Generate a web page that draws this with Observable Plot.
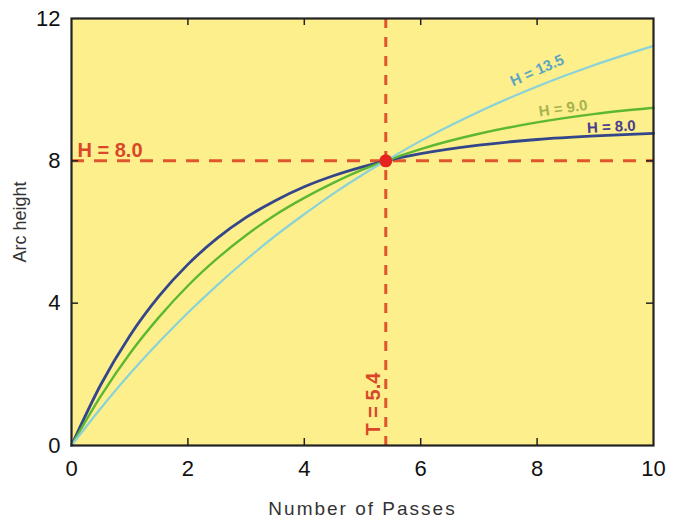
<!DOCTYPE html>
<html>
<head>
<meta charset="utf-8">
<script src="https://cdn.jsdelivr.net/npm/d3@7"></script>
<script src="https://cdn.jsdelivr.net/npm/@observablehq/plot@0.6"></script>
<style>
  html, body { margin: 0; padding: 0; background: #fff; }
  #chart { width: 678px; height: 525px; }
</style>
</head>
<body>
<div id="chart"></div>
<script>
// Number of passes (x)
const passes = [0, 0.5, 1, 1.5, 2, 2.5, 3, 3.5, 4, 4.5, 5, 5.4, 6, 7, 8, 9, 10];
// Arc height
const arcH80  = [0, 1.70, 3.08, 4.19, 5.09, 5.82, 6.41, 6.88, 7.27, 7.58, 7.83, 8.0, 8.20, 8.44, 8.60, 8.70, 8.77];
const arcH90  = [0, 1.38, 2.58, 3.60, 4.49, 5.25, 5.91, 6.48, 6.96, 7.38, 7.75, 8.0, 8.33, 8.76, 9.08, 9.32, 9.49];
const arcH135 = [0, 1.04, 2.01, 2.90, 3.73, 4.50, 5.22, 5.89, 6.50, 7.08, 7.61, 8.0, 8.56, 9.38, 10.09, 10.70, 11.23];
const seriesNames = ["H = 8.0", "H = 9.0", "H = 13.5"];
// saturation point
const refT = [5.4];
const refH = [8.0];
const refHLabel = ["H = 8.0"];
const refTLabel = ["T = 5.4"];
// ticks
const xTicks = [0, 2, 4, 6, 8, 10];
const yTicks = [0, 4, 8, 12];
const xTitle = "Number of Passes";
const yTitle = "Arc height";

const seriesValues = [arcH80, arcH90, arcH135];
const lineColors = ["#34468a", "#5db733", "#8ad2d8"];
const lineWidths = [2.8, 2.4, 2.2];
const labelColors = ["#4a3e8c", "#a6b34c", "#5ea6bf"];
const labelAnchorIdx = [15, 14, 14];   // index in passes where each label sits
const labelRotate = [-3, -8, -24];
const labelDx = [16, 26, 0];
const labelDy = [-9, -14, -16];

const font = "'Liberation Sans', Arial, Helvetica, sans-serif";
const W = 678, H = 525;
const mL = 71, mR = 25, mT = 18, mB = 80;
const innerW = W - mL - mR, innerH = H - mT - mB;

const rows = seriesNames.map((name, s) => passes.map((t, i) => ({series: name, t, v: seriesValues[s][i]})));
const labels = seriesNames.map((name, s) => ({
  series: name, t: passes[labelAnchorIdx[s]], v: seriesValues[s][labelAnchorIdx[s]]
}));

const marks = [
  Plot.frame({fill: "#fcef8c", stroke: null}),
  Plot.ruleY(refH, {stroke: "#e0552b", strokeWidth: 3, strokeDasharray: "13,10"}),
  Plot.ruleX(refT, {stroke: "#e0552b", strokeWidth: 3, strokeDasharray: "10,9"}),
];
rows.forEach((data, s) => {
  marks.push(Plot.line(data, {x: "t", y: "v", stroke: lineColors[s], strokeWidth: lineWidths[s], curve: "monotone-x"}));
});
labels.forEach((d, s) => {
  marks.push(Plot.text([d], {x: "t", y: "v", text: "series", fill: labelColors[s], fontWeight: "bold",
    fontSize: 15, rotate: labelRotate[s], dx: labelDx[s], dy: labelDy[s], fontFamily: font}));
});
marks.push(
  Plot.dot(refT.map((t, i) => ({t, v: refH[i]})), {x: "t", y: "v", r: 6.5, fill: "#e52421", stroke: null}),
  Plot.text(refHLabel, {x: xTicks[0], y: refH[0], text: d => d, textAnchor: "start", dx: 6, dy: -10,
    fill: "#d9472b", fontWeight: "bold", fontSize: 20, fontFamily: font}),
  Plot.text(refTLabel, {x: refT[0], y: yTicks[0], text: d => d, textAnchor: "start", rotate: -90, dx: -12, dy: -10,
    fill: "#d9472b", fontWeight: "bold", fontSize: 20, fontFamily: font}),
  // inward ticks
  Plot.tickX(xTicks.slice(1, -1), {x: d => d, stroke: "#222", strokeWidth: 1.5, insetTop: innerH - 7}),
  Plot.tickX(xTicks.slice(1, -1), {x: d => d, stroke: "#222", strokeWidth: 1.5, insetBottom: innerH - 7}),
  Plot.tickY(yTicks.slice(1, -1), {y: d => d, stroke: "#222", strokeWidth: 1.5, insetRight: innerW - 7}),
  Plot.tickY(yTicks.slice(1, -1), {y: d => d, stroke: "#222", strokeWidth: 1.5, insetLeft: innerW - 7}),
  Plot.frame({stroke: "#222", strokeWidth: 2.2}),
  Plot.axisX(xTicks, {tickSize: 0, tickPadding: 15, fontSize: 22, fill: "#111", label: null, fontFamily: font}),
  Plot.axisY(yTicks, {tickSize: 0, tickPadding: 11, fontSize: 22, fill: "#111", label: null, fontFamily: font}),
  Plot.text([xTitle], {frameAnchor: "bottom", textAnchor: "middle", dy: 69, fontSize: 19, fill: "#333", fontFamily: font}),
  Plot.text([yTitle], {frameAnchor: "left", textAnchor: "middle", rotate: -90, dx: -51, dy: -10, fontSize: 18, fill: "#333", fontFamily: font})
);

const chart = Plot.plot({
  width: W, height: H,
  marginLeft: mL, marginRight: mR, marginTop: mT, marginBottom: mB,
  style: {background: "#ffffff", fontFamily: font, overflow: "visible"},
  x: {domain: [0, 10], label: null},
  y: {domain: [0, 12], label: null},
  marks
});
d3.select(chart).selectAll("text").filter(function() { return this.textContent === xTitle; })
  .style("letter-spacing", "2px");
document.getElementById("chart").appendChild(chart);
</script>
</body>
</html>
